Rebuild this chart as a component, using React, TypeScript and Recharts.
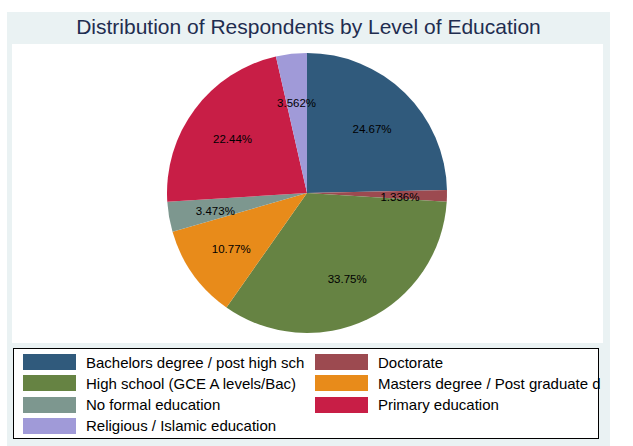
import { PieChart, Pie, Cell, Legend } from "recharts";

const categories = [
  "Bachelors degree / post high sch",
  "Doctorate",
  "High school (GCE A levels/Bac)",
  "Masters degree / Post graduate d",
  "No formal education",
  "Primary education",
  "Religious / Islamic education",
];
const shares = [24.67, 1.336, 33.75, 10.77, 3.473, 22.44, 3.562];
const shareLabels = ["24.67%", "1.336%", "33.75%", "10.77%", "3.473%", "22.44%", "3.562%"];
const colors = ["#305a7c", "#9c4a50", "#668343", "#e88b1a", "#7d978f", "#c81e46", "#a09ad8"];

const data = categories.map((name, i) => ({ name, value: shares[i], label: shareLabels[i] }));

const FONT = "'Liberation Sans', Arial, sans-serif";
const RAD = Math.PI / 180;

function renderLabel(props: any) {
  const { cx, cy, midAngle, index } = props;
  const r = 93;
  const x = cx + r * Math.cos(-midAngle * RAD);
  const y = cy + r * Math.sin(-midAngle * RAD) + 2;
  return (
    <text x={x} y={y} textAnchor="middle" dominantBaseline="central" fill="#000" fontSize={11.5} fontFamily={FONT}>
      {shareLabels[index]}
    </text>
  );
}

function LegendBox() {
  return (
    <div
      style={{
        position: "absolute",
        left: 13,
        top: 348,
        width: 586,
        height: 91,
        border: "1px solid #000",
        background: "#fff",
        boxSizing: "border-box",
        fontFamily: FONT,
        fontSize: 15,
        color: "#000",
      }}
    >
      {categories.map((c, i) => {
        const col = i % 2;
        const row = Math.floor(i / 2);
        return (
          <div
            key={c}
            style={{
              position: "absolute",
              left: col === 0 ? 9 : 301,
              top: 5 + row * 21.3,
              height: 16,
              display: "flex",
              alignItems: "center",
              whiteSpace: "nowrap",
            }}
          >
            <div style={{ width: 53, height: 16, background: colors[i], marginRight: 10, flexShrink: 0 }} />
            <span>{c}</span>
          </div>
        );
      })}
    </div>
  );
}

export default function App() {
  return (
    <div style={{ position: "fixed", left: 0, top: 0, width: 633, height: 446, background: "#fff" }}>
      <div style={{ position: "absolute", left: 7, top: 12, width: 603, height: 434, background: "#eaf2f3" }} />
      <div style={{ position: "absolute", left: 12, top: 44, width: 591, height: 299, background: "#fff" }} />
      <div
        style={{
          position: "absolute",
          left: 7,
          top: 15,
          width: 603,
          textAlign: "center",
          fontFamily: FONT,
          fontSize: 21,
          color: "#1f2d50",
        }}
      >
        Distribution of Respondents by Level of Education
      </div>
      <div style={{ position: "absolute", left: 0, top: 0 }}>
        <PieChart width={633} height={446} margin={{ top: 0, right: 0, bottom: 0, left: 0 }}>
          <Pie
            data={data}
            dataKey="value"
            nameKey="name"
            cx={307}
            cy={193}
            outerRadius={140}
            startAngle={90}
            endAngle={-270}
            stroke="none"
            label={renderLabel}
            labelLine={false}
            isAnimationActive={false}
          >
            {data.map((d, i) => (
              <Cell key={d.name} fill={colors[i]} />
            ))}
          </Pie>
          <Legend content={() => null} />
        </PieChart>
      </div>
      <LegendBox />
    </div>
  );
}
